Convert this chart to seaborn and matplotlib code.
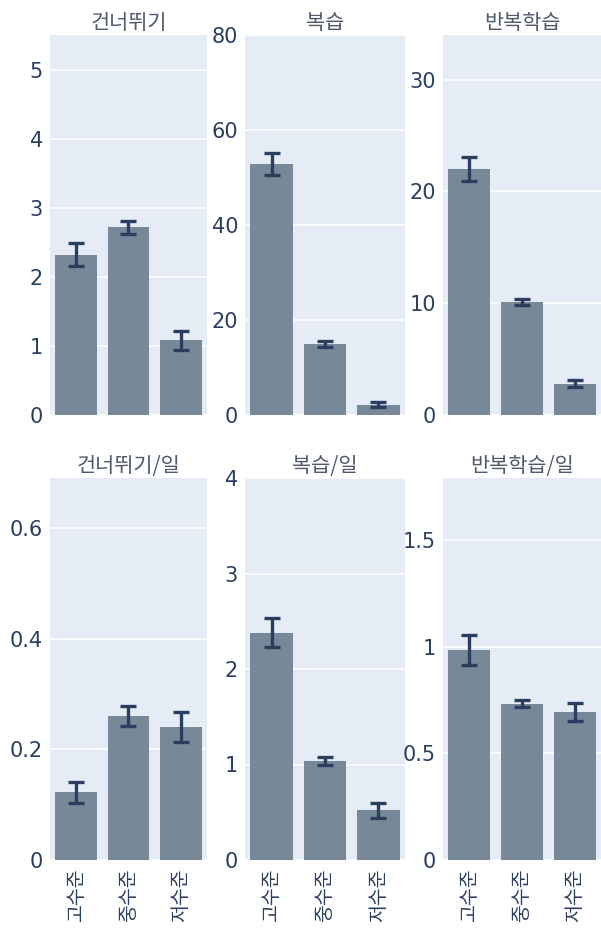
import numpy as np
import pandas as pd
import matplotlib
matplotlib.use("Agg")
import matplotlib.pyplot as plt
import seaborn as sns

sns.set_theme(style="dark")
plt.rcParams['font.family'] = ['DejaVu Sans', 'Noto Sans CJK KR']

levels = ["고수준", "중수준", "저수준"]
titles = ["건너뛰기", "복습", "반복학습", "건너뛰기/일", "복습/일", "반복학습/일"]

skip_mean = [2.32, 2.72, 1.08]
skip_err = [0.17, 0.095, 0.135]
review_mean = [52.8, 14.9, 2.2]
review_err = [2.3, 0.65, 0.5]
repeat_mean = [22.0, 10.1, 2.8]
repeat_err = [1.1, 0.3, 0.3]
skip_day_mean = [0.122, 0.260, 0.240]
skip_day_err = [0.019, 0.018, 0.027]
review_day_mean = [2.38, 1.04, 0.52]
review_day_err = [0.15, 0.04, 0.075]
repeat_day_mean = [0.985, 0.733, 0.693]
repeat_day_err = [0.07, 0.018, 0.042]

means = [skip_mean, review_mean, repeat_mean, skip_day_mean, review_day_mean, repeat_day_mean]
errs = [skip_err, review_err, repeat_err, skip_day_err, review_day_err, repeat_day_err]
ylims = [5.5, 80, 34, 0.69, 4, 1.79]
yticks = [[0, 1, 2, 3, 4, 5], [0, 20, 40, 60, 80], [0, 10, 20, 30],
          [0, 0.2, 0.4, 0.6], [0, 1, 2, 3, 4], [0, 0.5, 1, 1.5]]

bg = "#e5ecf6"
bar_col = "#778899"
err_col = "#2a3f5f"
txt_col = "#2a3f5f"
cjk = ['Noto Sans CJK KR', 'DejaVu Sans']

fig = plt.figure(figsize=(6.01, 9.40), dpi=100)
W, H = 601, 940
cols = [(50, 157), (245, 160), (443, 158)]
rows = [(35, 415), (478, 860)]

for i in range(6):
    r, c = divmod(i, 3)
    x0, w = cols[c]
    top, bot = rows[r]
    ax = fig.add_axes([x0 / W, 1 - bot / H, w / W, (bot - top) / H])
    ax.set_facecolor(bg)
    df = pd.DataFrame({"level": levels, "val": means[i]})
    sns.barplot(data=df, x="level", y="val", color=bar_col, saturation=1,
                width=0.8, errorbar=None, ax=ax, edgecolor=bar_col, linewidth=0)
    ax.errorbar(np.arange(3), means[i], yerr=errs[i], fmt="none",
                ecolor=err_col, elinewidth=2.4, capsize=5.5, capthick=2.4, zorder=5)
    ax.set_xlim(-0.5, 2.5)
    ax.set_ylim(0, ylims[i])
    ax.set_yticks(yticks[i])
    ax.set_yticklabels([f"{v:g}" for v in yticks[i]])
    ax.grid(axis="y", color="white", linewidth=1.2)
    ax.grid(axis="x", visible=False)
    ax.set_axisbelow(True)
    for s in ax.spines.values():
        s.set_visible(False)
    ax.tick_params(axis="y", length=0, pad=5, labelsize=15, labelcolor=txt_col)
    ax.set_xlabel("")
    ax.set_ylabel("")
    if r == 0:
        ax.set_xticklabels([])
        ax.tick_params(axis="x", length=0)
    else:
        ax.tick_params(axis="x", length=0, pad=6, labelcolor=txt_col)
        ax.set_xticks(range(3))
        ax.set_xticklabels(levels, rotation=90, va="top", ha="center",
                           family=cjk, fontsize=14)
    ax.set_title(titles[i], fontsize=15, color="#505a6a", pad=4, family=cjk)

plt.savefig("out.png", dpi=100)
